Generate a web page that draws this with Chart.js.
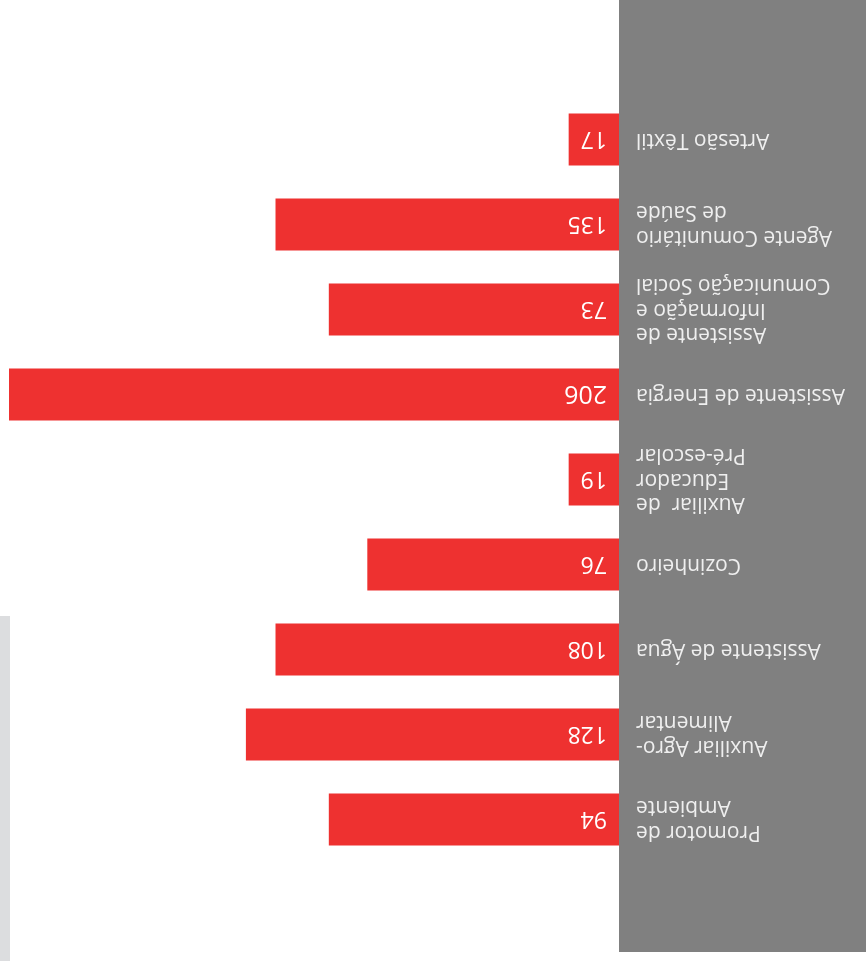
<!DOCTYPE html>
<html>
<head>
<meta charset="utf-8">
<script src="https://cdn.jsdelivr.net/npm/chart.js@4.4.0/dist/chart.umd.min.js"></script>
<style>
  html, body { margin: 0; padding: 0; background: #ffffff; }
  /* the source picture is printed upside down */
  .chart-wrap { width: 866px; height: 961px; position: relative; transform: rotate(180deg); }
</style>
</head>
<body>
<div class="chart-wrap">
  <canvas id="chart-formacao"></canvas>
</div>
<script>
  // Categories, top to bottom (before the page is turned round)
  const categories = [
    ['Promotor de', 'Ambiente'],
    ['Auxiliar Agro-', 'Alimentar'],
    'Assistente de Água',
    'Cozinheiro',
    ['Auxiliar  de', 'Educador', 'Pré-escolar'],
    'Assistente de Energia',
    ['Assistente de', 'Informação e', 'Comunicação Social'],
    ['Agente Comunitário', 'de Saúde'],
    'Artesão Têxtil'
  ];

  // Numbers printed in the bars
  const counts = [94, 128, 108, 76, 19, 206, 73, 135, 17];

  // Bar lengths as drawn in the source (not proportional to the printed numbers)
  const barLengths = [98, 126, 116, 85, 17, 206, 98, 116, 17];

  // Panneau gris derrière les libellés + bande grise claire
  const panelPlugin = {
    id: 'panel',
    beforeDraw(chart) {
      const { ctx, chartArea, width } = chart;
      ctx.save();
      ctx.fillStyle = '#808080';
      ctx.fillRect(0, 9, chartArea.left, chart.height - 9);
      ctx.fillStyle = '#dcdddf';
      ctx.fillRect(width - 10, 0, 10, 345);
      ctx.restore();
    }
  };

  // Valeurs écrites au début de chaque barre
  const valuesPlugin = {
    id: 'values',
    afterDatasetsDraw(chart) {
      const { ctx } = chart;
      const meta = chart.getDatasetMeta(0);
      ctx.save();
      ctx.fillStyle = '#ffffff';
      ctx.textBaseline = 'middle';
      ctx.textAlign = 'left';
      meta.data.forEach((bar, i) => {
        const big = counts[i] < 200;
        ctx.font = big ? '23px "Open Sans"' : '25px "Liberation Sans Narrow", "Open Sans"';
        ctx.fillText(String(counts[i]), bar.base + 12, bar.y + 1);
      });
      ctx.restore();
    }
  };

  new Chart(document.getElementById('chart-formacao').getContext('2d'), {
    type: 'bar',
    data: {
      labels: categories,
      datasets: [{
        data: barLengths,
        backgroundColor: '#ee3130',
        borderWidth: 0,
        barPercentage: 0.612,
        categoryPercentage: 1
      }]
    },
    options: {
      indexAxis: 'y',
      responsive: true,
      maintainAspectRatio: false,
      animation: false,
      layout: { padding: { top: 99, bottom: 97, right: 9, left: 0 } },
      plugins: {
        legend: { display: false },
        tooltip: { enabled: false }
      },
      scales: {
        x: { display: false, min: 0, max: 206 },
        y: {
          grid: { display: false, drawTicks: false },
          border: { display: false },
          ticks: {
            padding: 17,
            color: '#efefef',
            font: { family: '"Open Sans"', size: 21, lineHeight: 1.15 }
          },
          afterFit: (scale) => { scale.width = 247; }
        }
      }
    },
    plugins: [panelPlugin, valuesPlugin]
  });
</script>
</body>
</html>
